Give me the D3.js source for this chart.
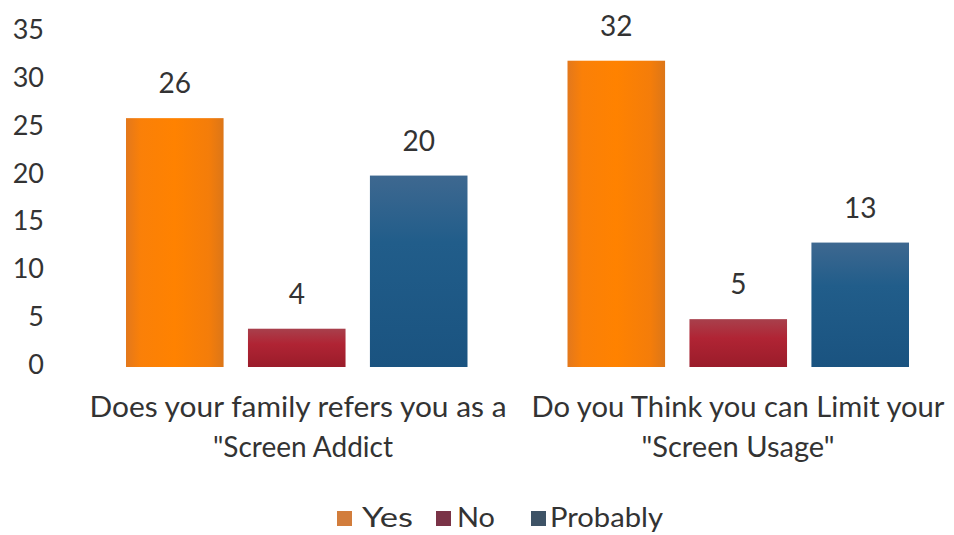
<!DOCTYPE html>
<html>
<head>
<meta charset="utf-8">
<script src="https://cdn.jsdelivr.net/npm/d3@7"></script>
<style>
  html, body { margin: 0; padding: 0; background: #fff; }
  svg text { font-family: Lato, "Open Sans", sans-serif; fill: #333; }
</style>
</head>
<body>
<svg id="chart" width="954" height="535"></svg>
<script>
// Survey questions (each split over two lines) and answers
const categories = ["Q1", "Q2"];
const categoryLines = [
  ["Does your family refers you as a", "\"Screen Addict"],
  ["Do you Think you can Limit your", "\"Screen Usage\""]
];
const series = ["Yes", "No", "Probably"];
const yesValues = [26, 32];
const noValues = [4, 5];
const probablyValues = [20, 13];
const yTicks = [0, 5, 10, 15, 20, 25, 30, 35];

const valuesBySeries = { Yes: yesValues, No: noValues, Probably: probablyValues };

const svg = d3.select("#chart");
const defs = svg.append("defs");

// Bar fills: orange shaded across, red and blue shaded down
const gYes = defs.append("linearGradient").attr("id", "g-yes")
  .attr("x1", "0").attr("y1", "0").attr("x2", "1").attr("y2", "0");
[["0%", "#e3781c"], ["15%", "#fa8008"], ["50%", "#ff8200"], ["85%", "#f47d0a"], ["100%", "#dc7618"]]
  .forEach(([o, c]) => gYes.append("stop").attr("offset", o).attr("stop-color", c));

const gNo = defs.append("linearGradient").attr("id", "g-no")
  .attr("x1", "0").attr("y1", "0").attr("x2", "0").attr("y2", "1");
[["0%", "#a8404c"], ["40%", "#b02434"], ["100%", "#9a1c2a"]]
  .forEach(([o, c]) => gNo.append("stop").attr("offset", o).attr("stop-color", c));

const gProb = defs.append("linearGradient").attr("id", "g-prob")
  .attr("x1", "0").attr("y1", "0").attr("x2", "0").attr("y2", "1");
[["0%", "#3e6890"], ["35%", "#215d8a"], ["100%", "#1a5380"]]
  .forEach(([o, c]) => gProb.append("stop").attr("offset", o).attr("stop-color", c));

const fills = { Yes: "url(#g-yes)", No: "url(#g-no)", Probably: "url(#g-prob)" };
const legendColors = { Yes: "#d27d3c", No: "#7a3347", Probably: "#3e5366" };

// Scales
const x0 = d3.scaleBand().domain(categories).range([76, 959]).padding(0);
const x1 = d3.scaleBand().domain(series).range([0, x0.bandwidth()])
  .paddingInner(0.2).paddingOuter(0.41);
const y = d3.scaleLinear().domain([0, 35]).range([367, 32]);

// Y axis: labels only, no line or ticks
const yAxis = d3.axisLeft(y).tickValues(yTicks).tickSize(0).tickPadding(0);
const yg = svg.append("g").attr("transform", "translate(44,0)").call(yAxis);
yg.select(".domain").remove();
yg.selectAll("text")
  .attr("font-family", "Lato, sans-serif")
  .attr("font-size", 27)
  .attr("fill", "#333")
  .attr("y", -3)
  .attr("dy", "0.35em");

// Bars
const groups = svg.append("g").selectAll("g")
  .data(categories)
  .join("g")
  .attr("transform", d => `translate(${x0(d)},0)`);

groups.selectAll("rect")
  .data((c, i) => series.map(s => ({ s, v: valuesBySeries[s][i] })))
  .join("rect")
  .attr("x", d => x1(d.s))
  .attr("width", x1.bandwidth())
  .attr("y", d => y(d.v))
  .attr("height", d => y(0) - y(d.v))
  .attr("fill", d => fills[d.s]);

// Value labels above bars
groups.selectAll("text.value")
  .data((c, i) => series.map(s => ({ s, v: valuesBySeries[s][i] })))
  .join("text")
  .attr("class", "value")
  .attr("x", d => x1(d.s) + x1.bandwidth() / 2)
  .attr("y", d => y(d.v) - 25)
  .attr("text-anchor", "middle")
  .attr("font-size", 28)
  .text(d => d.v);

// Category labels (two lines each), fitted to their measured widths
const lineWidths = [[417, 180], [413, 193]];
const lineCenters = [[298, 303], [738, 738]];
categories.forEach((c, i) => {
  categoryLines[i].forEach((line, j) => {
    svg.append("text")
      .attr("x", lineCenters[i][j])
      .attr("y", 417 + j * 40)
      .attr("text-anchor", "middle")
      .attr("font-size", 28)
      .attr("textLength", lineWidths[i][j])
      .attr("lengthAdjust", "spacingAndGlyphs")
      .text(line);
  });
});

// Legend
const legendItems = [
  { s: "Yes", sq: 337, tx: 362, w: 51 },
  { s: "No", sq: 436, tx: 457, w: 38 },
  { s: "Probably", sq: 531, tx: 550, w: 113 }
];
const lg = svg.append("g");
lg.selectAll("rect")
  .data(legendItems)
  .join("rect")
  .attr("x", d => d.sq)
  .attr("y", 511)
  .attr("width", 15)
  .attr("height", 15)
  .attr("fill", d => legendColors[d.s]);
lg.selectAll("text")
  .data(legendItems)
  .join("text")
  .attr("x", d => d.tx)
  .attr("y", 527)
  .attr("font-size", 27)
  .attr("textLength", d => d.w)
  .attr("lengthAdjust", "spacingAndGlyphs")
  .text(d => d.s);
</script>
</body>
</html>
